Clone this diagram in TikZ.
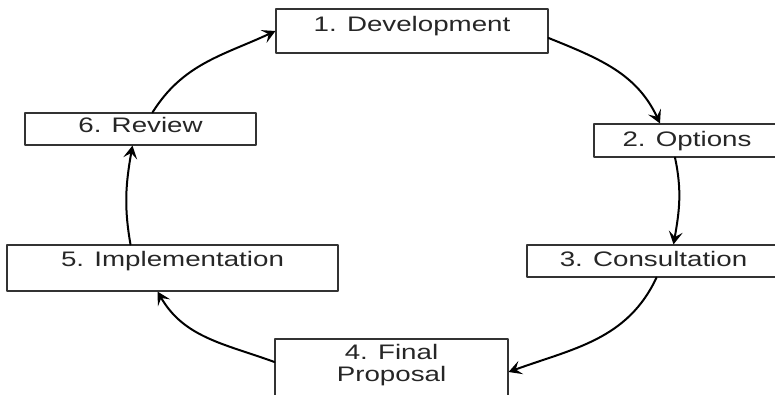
\documentclass[tikz,border=0pt]{standalone}
\usepackage{fontspec}
\setmainfont{Liberation Sans}
\usetikzlibrary{arrows.meta}
\newcommand\widetext[1]{\scalebox{1.32}[1]{#1}}
\tikzset{
  stage/.style={draw=black!80, line width=1.1pt, inner sep=0pt, text=black!85,
    font=\fontsize{21}{20}\selectfont},
  flow/.style={->, line width=2pt, line cap=round}
}
\begin{document}
\begin{tikzpicture}[x=1pt, y=1pt, line join=round, >={Stealth[length=13pt,width=14pt,inset=5.5pt]}]
 \useasboundingbox (0,0) rectangle (775,395);
 \clip (0,0) rectangle (775,395);
 % the six stages
 \node[stage, minimum width=272pt, minimum height=44pt, text height=23pt, text depth=21pt] (dev) at (412,364) {\widetext{1. Development}};
 \node[stage, minimum width=186pt, minimum height=33pt, text height=23pt, text depth=10pt] (opt) at (687,254.5) {\widetext{2. Options}};
 \node[stage, minimum width=253pt, minimum height=32pt, text height=22pt, text depth=10pt] (con) at (653.5,134) {\widetext{3. Consultation}};
 \node[stage, minimum width=233pt, minimum height=66pt, text height=21pt, text depth=45pt] (fin) at (391.5,23)
   {\begin{tabular}[t]{@{}c@{}}\widetext{4. Final}\\\widetext{Proposal}\end{tabular}};
 \node[stage, minimum width=331pt, minimum height=46pt, text height=22pt, text depth=24pt] (imp) at (172.5,127) {\widetext{5. Implementation}};
 \node[stage, minimum width=231pt, minimum height=32pt, text height=20pt, text depth=12pt] (rev) at (140.5,266) {\widetext{6. Review}};
 % the cycle
 \draw[flow] ([yshift=-7pt]dev.east) to[out=-22, in=115] ([xshift=-27pt]opt.north);
 \draw[flow] ([xshift=-12pt]opt.south) to[out=-78, in=80] ([xshift=20pt]con.north);
 \draw[flow] ([xshift=3pt]con.south) to[out=-115, in=20] (fin.east);
 \draw[flow] ([yshift=10pt]fin.west) to[out=160, in=-60] ([xshift=-15pt]imp.south);
 \draw[flow] ([xshift=-42pt]imp.north) to[out=100, in=-100] ([xshift=-8pt]rev.south);
 \draw[flow] ([xshift=12pt]rev.north) to[out=58, in=-155] (dev.west);
\end{tikzpicture}
\end{document}
